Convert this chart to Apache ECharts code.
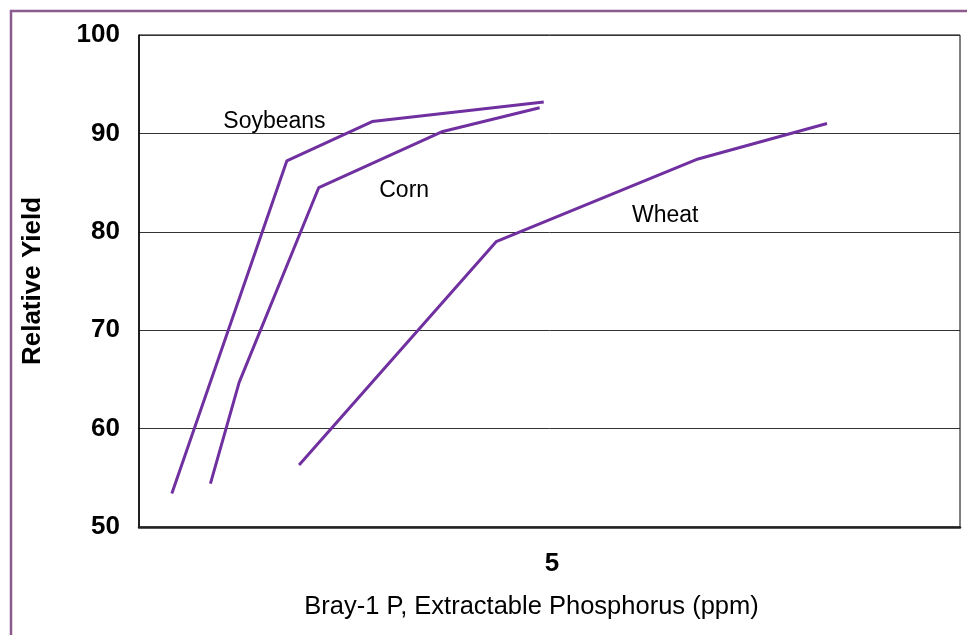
<!DOCTYPE html>
<html lang="en">
<head>
  <meta charset="UTF-8">
  <title>Relative Yield vs Bray-1 P</title>
  <script src="https://cdn.jsdelivr.net/npm/echarts@6/dist/echarts.min.js"></script>
  <style>
    html, body { margin: 0; padding: 0; background: #fff; }
    #chart { width: 967px; height: 635px; }
  </style>
</head>
<body>
<div id="chart"></div>
<script type="text/javascript">
  // curves: [P (ppm), relative yield]
  var soybeans = [[0.40, 53.4], [1.80, 87.2], [2.84, 91.2], [4.93, 93.2]];
  var corn = [[0.87, 54.4], [1.22, 64.7], [2.19, 84.5], [3.70, 90.2], [4.88, 92.6]];
  var wheat = [[1.95, 56.3], [4.35, 79.0], [6.81, 87.4], [8.38, 91.0]];

  var curveNames = ['Soybeans', 'Corn', 'Wheat'];
  var labelSpots = [[1.65, 91.2], [3.23, 84.2], [6.41, 81.6]];

  var xTicks = ['5'];
  var yMin = 50, yMax = 100, yStep = 10;

  var font = '"Liberation Sans", Arial, sans-serif';
  var purple = '#7030a0';

  var myChart = echarts.init(document.getElementById('chart'));

  function curve(name, data) {
    return {
      name: name,
      type: 'line',
      data: data,
      showSymbol: false,
      lineStyle: { color: purple, width: 3 },
      itemStyle: { color: purple },
      z: 3
    };
  }

  var option = {
    backgroundColor: '#fff',
    animation: false,
    grid: {
      left: 139, right: 7, top: 35, bottom: 108,
      show: true,
      borderColor: '#000',
      borderWidth: 1
    },
    xAxis: {
      type: 'value',
      min: 0, max: 10, interval: 5,
      name: 'Bray-1 P, Extractable Phosphorus (ppm)',
      nameLocation: 'middle',
      nameGap: 67,
      nameTextStyle: { fontFamily: font, fontSize: 25.5, color: '#000', padding: [0, 36, 0, 0] },
      axisLine: { show: true, lineStyle: { color: '#222', width: 2.5 } },
      axisTick: { show: false },
      splitLine: { show: false },
      axisLabel: {
        margin: 24,
        fontFamily: font, fontSize: 26, fontWeight: 'bold', color: '#000',
        padding: [0, 0, 0, 5],
        formatter: function (v) { return xTicks.indexOf(String(v)) >= 0 ? String(v) : ''; }
      }
    },
    yAxis: {
      type: 'value',
      min: yMin, max: yMax, interval: yStep,
      name: 'Relative Yield',
      nameLocation: 'middle',
      nameGap: 93,
      nameTextStyle: { fontFamily: font, fontSize: 26, fontWeight: 'bold', color: '#000' },
      axisLine: { show: true, lineStyle: { color: '#000', width: 1.5 } },
      axisTick: { show: false },
      splitLine: { show: true, lineStyle: { color: '#333', width: 1 } },
      axisLabel: {
        margin: 19,
        fontFamily: font, fontSize: 26, fontWeight: 'bold', color: '#000',
        padding: [8, 0, 0, 0]
      }
    },
    series: [
      curve(curveNames[0], soybeans),
      curve(curveNames[1], corn),
      curve(curveNames[2], wheat),
      {
        type: 'scatter',
        symbolSize: 0,
        itemStyle: { opacity: 1 },
        data: curveNames.map(function (n, i) { return { name: n, value: labelSpots[i] }; }),
        label: {
          show: true,
          position: 'inside',
          formatter: '{b}',
          fontFamily: font, fontSize: 23, color: '#000',
          opacity: 1,
          textBorderWidth: 0
        },
        z: 4
      }
    ],
    graphic: [
      {
        type: 'rect',
        shape: { x: 11, y: 11, width: 1000, height: 700 },
        style: { fill: null, stroke: '#8c5a8c', lineWidth: 2.5 },
        silent: true
      }
    ]
  };

  myChart.setOption(option);
</script>
</body>
</html>
